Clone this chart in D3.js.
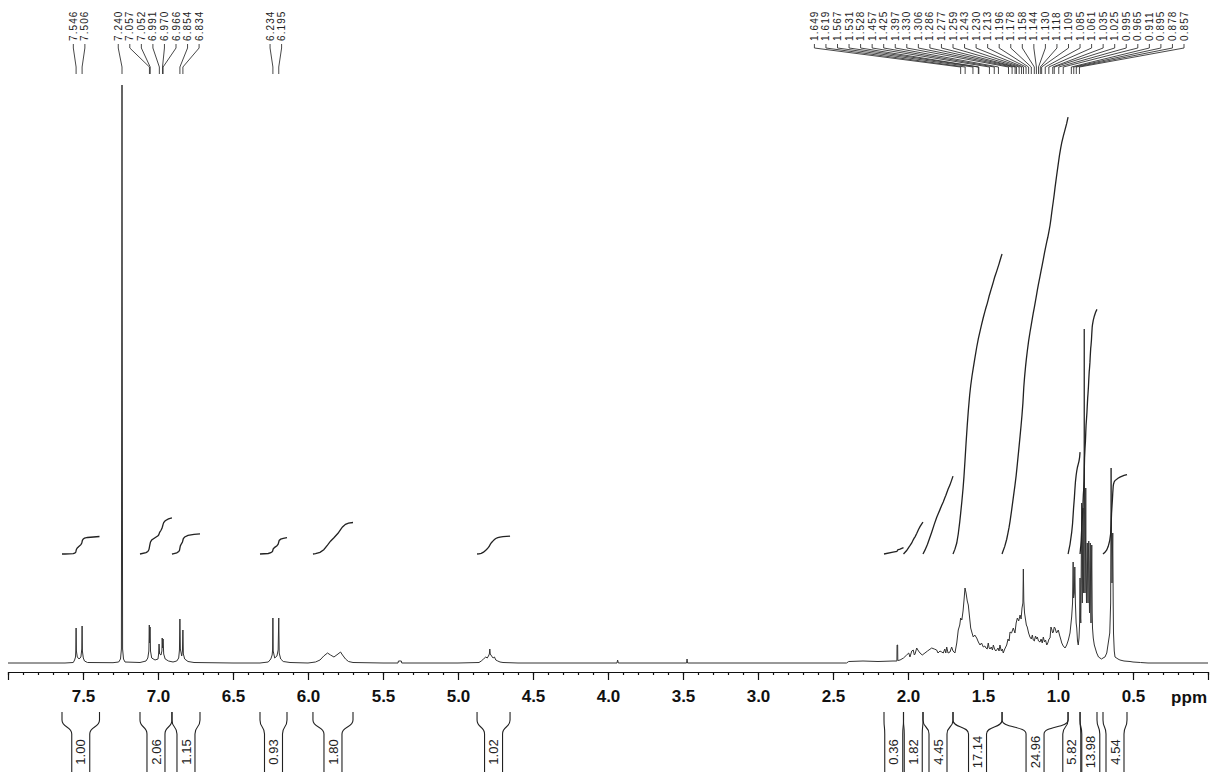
<!DOCTYPE html>
<html><head><meta charset="utf-8">
<script src="https://cdn.jsdelivr.net/npm/d3@7"></script>
<style>body{margin:0;background:#fff}svg{display:block}</style>
</head><body>
<svg id="c" width="1214" height="776"></svg>
<script>
// ---- DATA ----
// spectrum trace: [ppm, intensity]
const spectrum = [
[8.0,0],[7.62,0],[7.565,0.5],[7.556,3],[7.550,6],[7.548,12],[7.546,35],[7.544,12],[7.538,6],[7.526,4],[7.514,6],[7.508,14],[7.506,37],[7.504,12],[7.498,5],[7.49,2],[7.47,0.5],[7.30,0.3],
[7.262,1],[7.25,4],[7.244,14],[7.240,578],[7.236,14],[7.230,4],[7.22,1],[7.12,0.5],
[7.08,2],[7.068,5],[7.061,12],[7.058,38],[7.056,20],[7.053,36],[7.050,12],[7.042,5],[7.02,3],[7.0,4],[6.996,9],[6.993,19],[6.989,9],[6.98,8],[6.974,12],[6.972,25],[6.969,15],[6.966,24],[6.962,9],[6.952,4],[6.93,2],[6.90,1],
[6.875,2],[6.862,5],[6.857,13],[6.854,44],[6.851,14],[6.842,7],[6.837,12],[6.834,33],[6.831,9],[6.822,4],[6.80,1.5],[6.76,0.5],[6.5,0],[6.32,0],
[6.265,1],[6.248,4],[6.239,8],[6.236,13],[6.234,45],[6.232,12],[6.222,5],[6.207,7],[6.199,13],[6.195,45],[6.192,10],[6.182,4],[6.165,1.5],[6.12,0.5],[6.0,0],
[5.95,1],[5.92,3],[5.895,7],[5.87,10],[5.85,8],[5.827,6],[5.80,9],[5.783,11],[5.77,8],[5.75,4],[5.73,1.5],[5.70,0.5],[5.5,0],
[5.40,0],[5.397,2],[5.378,2],[5.375,0],[5.0,0],
[4.86,0.5],[4.845,2],[4.83,4],[4.815,6],[4.805,5],[4.797,7],[4.791,9],[4.788,14],[4.785,9],[4.776,7],[4.766,5],[4.757,6],[4.748,3],[4.735,2],[4.72,1],[4.70,0.5],[4.6,0],
[3.94,0],[3.936,3],[3.931,0],[3.476,0],[3.473,4],[3.470,0],[2.41,0],
[2.395,1.5],[2.30,2],[2.20,1.5],[2.10,2],[2.074,2],[2.073,18],[2.069,18],[2.068,2.5],[2.053,3],
[2.03,5],[2.009,8],[1.995,10],[1.987,6],[1.975,12],[1.965,13],[1.958,8],[1.953,9],[1.942,15],[1.93,12],[1.92,10],[1.905,8],[1.887,10],[1.87,12],
[1.842,15],[1.825,14],[1.809,13],[1.80,10],[1.787,12],[1.775,11],[1.765,10],[1.755,14],[1.748,10],[1.742,16],[1.733,10],[1.72,11],[1.709,16],[1.70,12],[1.687,10],
[1.675,20],[1.665,33],[1.655,38],[1.649,45],[1.641,43],[1.633,52],[1.627,62],[1.620,75],[1.613,70],[1.605,62],[1.598,58],[1.589,45],[1.582,35],[1.573,30],[1.565,26],[1.555,28],[1.542,25],[1.531,21],[1.52,18],[1.51,20],
[1.498,16],[1.488,17],[1.48,15],[1.472,14],[1.465,20],[1.459,15],[1.453,14],[1.445,16],[1.437,13],[1.431,18],[1.423,14],[1.415,12],[1.409,13],[1.40,15],[1.393,12],[1.387,18],[1.378,12],[1.371,14],[1.365,10],
[1.355,14],[1.342,18],[1.333,24],[1.326,22],[1.32,31],[1.31,30],[1.298,35],[1.287,30],[1.279,40],[1.271,45],[1.262,42],[1.253,48],[1.246,44],[1.240,55],[1.234,60],[1.231,94],[1.228,62],[1.223,50],[1.216,43],[1.211,38],[1.205,36],[1.196,30],[1.187,26],
[1.178,24],[1.171,28],[1.165,23],[1.158,22],[1.150,27],[1.143,24],[1.138,26],[1.130,22],[1.12,21],[1.113,24],[1.105,20],[1.098,26],[1.09,21],[1.083,23],[1.075,18],[1.068,20],[1.06,24],[1.053,25],[1.047,36],[1.042,34],[1.036,30],[1.031,31],[1.025,36],[1.02,35],[1.01,30],[0.998,33],[0.99,28],[0.982,24],[0.975,20],[0.965,17],[0.953,15],[0.942,18],
[0.931,23],[0.92,30],[0.909,46],[0.903,60],[0.899,101],[0.896,65],[0.891,70],[0.888,96],[0.884,60],[0.879,40],[0.875,35],[0.87,22],[0.865,18],[0.86,25],[0.856,40],[0.853,85],[0.850,45],[0.848,40],
[0.845,100],[0.842,160],[0.840,80],[0.838,60],[0.836,120],[0.833,155],[0.831,90],[0.829,70],[0.826,200],[0.825,334],[0.823,150],[0.820,70],[0.817,110],[0.815,175],[0.813,90],[0.810,60],[0.807,100],[0.805,120],[0.802,80],[0.800,60],[0.797,110],[0.795,122],[0.792,70],[0.790,50],[0.787,100],[0.785,120],[0.782,60],[0.780,40],[0.777,90],[0.775,118],[0.772,50],[0.77,35],[0.765,25],[0.758,18],[0.75,14],
[0.742,10],[0.73,6],[0.72,5],[0.71,4],[0.70,5],[0.687,6],[0.675,10],[0.665,20],[0.655,30],[0.649,60],[0.646,195],[0.643,120],[0.640,80],[0.637,110],[0.635,130],[0.632,60],[0.630,30],[0.625,12],[0.62,6],[0.60,4],[0.587,3],[0.56,2],[0.52,1.5],[0.50,1],[0.45,0.5],[0.40,0],[0.0,0]
];

// integrals: ppm ranges and values
const integralRanges = [
  [7.64,7.39],[7.12,6.907],[6.907,6.72],[6.32,6.14],[5.967,5.70],[4.873,4.653],
  [2.16,2.03],[2.03,1.90],[1.90,1.70],[1.70,1.373],[1.373,0.933],[0.933,0.853],[0.853,0.74],[0.70,0.54]
];
const integralValues = [1.00,2.06,1.15,0.93,1.80,1.02,0.36,1.82,4.45,17.14,24.96,5.82,13.98,4.54];

// peak labels (ppm)
const peakLabels = [
  7.546,7.506,7.240,7.057,7.052,6.991,6.970,6.966,6.854,6.834,
  6.234,6.195,
  1.649,1.619,1.567,1.531,1.528,1.457,1.425,1.397,1.330,1.306,1.286,1.277,1.259,1.243,1.230,1.213,
  1.196,1.178,1.158,1.144,1.130,1.118,1.109,1.085,1.061,1.035,1.025,0.995,0.965,0.911,0.895,0.878,0.857
];

const majorTicks = d3.range(0, 8.001, 0.5);
const minorTicks = d3.range(0, 81).map(i => i / 10);

// ---- DRAW ----
const svg = d3.select("#c");
svg.append("rect").attr("width",1214).attr("height",776).attr("fill","#fff");

const x = d3.scaleLinear().domain([8, 0]).range([8, 1208]);
const y = d3.scaleLinear().domain([0, 580]).range([663, 83]);
const yInt = d3.scaleLinear().domain([0, 30]).range([554, 29]);

// spectrum
svg.append("path").datum(spectrum)
  .attr("fill","none").attr("stroke","#333").attr("stroke-width",1)
  .attr("stroke-linejoin","round")
  .attr("d", d3.line().x(d => x(d[0])).y(d => y(d[1])));

// integral curves from cumulative area of the spectrum
function interp(p){
  for (let i=0;i<spectrum.length-1;i++){
    const a=spectrum[i], b=spectrum[i+1];
    if (p<=a[0] && p>=b[0]){ const t=(a[0]-p)/(a[0]-b[0]||1); return a[1]+t*(b[1]-a[1]); }
  }
  return 0;
}
function cumulative(from, to){
  const pts=[[from,interp(from)]].concat(spectrum.filter(d=>d[0]<from&&d[0]>to)).concat([[to,interp(to)]]);
  const cum=[0];
  for(let i=1;i<pts.length;i++) cum.push(cum[i-1]+0.5*(pts[i][1]+pts[i-1][1])*(pts[i-1][0]-pts[i][0]));
  const tot=cum[cum.length-1]||1;
  return pts.map((d,i)=>[d[0],cum[i]/tot]);
}
integralRanges.forEach((r,i)=>{
  const c=cumulative(r[0],r[1]);
  svg.append("path").datum(c).attr("fill","none").attr("stroke","#222").attr("stroke-width",1.3)
    .attr("d", d3.line().x(d=>x(d[0])).y(d=>yInt(d[1]*integralValues[i])));
});

// axis
const axG = svg.append("g").attr("transform","translate(0,672)");
axG.append("g").call(d3.axisBottom(x).tickValues(minorTicks).tickSize(3).tickSizeOuter(0).tickFormat(""));
const majG = axG.append("g").call(d3.axisBottom(x).tickValues(majorTicks).tickSize(8).tickSizeOuter(0).tickPadding(10)
  .tickFormat(d => (d > 0.01 && d < 7.99) ? d3.format(".1f")(d) : ""));
axG.selectAll("path,line").attr("stroke","#111").attr("stroke-width",1.2);
majG.selectAll("text").attr("font-family","'Liberation Sans',Arial,sans-serif").attr("font-size",17).attr("font-weight","bold").attr("fill","#111");
svg.append("text").attr("x",1207).attr("y",703).attr("text-anchor","end")
  .attr("font-family","'Liberation Sans',Arial,sans-serif").attr("font-size",17).attr("font-weight","bold").attr("fill","#111").text("ppm");

// label spreading
function spread(xs, s, maxX){
  let cl = xs.map(v=>({sum:v,n:1,start:v}));
  let changed=true;
  while(changed){
    changed=false;
    for(let i=0;i<cl.length;i++){
      const c=cl[i];
      if(c.start+(c.n-1)*s>maxX){c.start=maxX-(c.n-1)*s;}
    }
    for(let i=0;i<cl.length-1;i++){
      const a=cl[i], b=cl[i+1];
      if(b.start-(a.start+(a.n-1)*s) < s){
        const n=a.n+b.n, sum=a.sum+b.sum;
        cl.splice(i,2,{sum,n,start:sum/n-(n-1)/2*s});
        changed=true; break;
      }
    }
  }
  const out=[];
  cl.forEach(c=>{for(let k=0;k<c.n;k++) out.push(c.start+k*s);});
  return out;
}

// peak labels
const pk = peakLabels.map(p=>({p,px:x(p)})).sort((a,b)=>a.px-b.px);
const lx = spread(pk.map(d=>d.px), 11.55, 1184);
const topG = svg.append("g");
pk.forEach((d,i)=>{
  const l=lx[i];
  topG.append("path").attr("fill","none").attr("stroke","#333").attr("stroke-width",0.9)
    .attr("d",`M${l},44 L${l},48 L${d.px},67 L${d.px},74`);
  topG.append("text").attr("transform",`translate(${l},41) rotate(-90)`).attr("dy","0.35em")
    .attr("font-family","'Liberation Sans',Arial,sans-serif").attr("font-size",10).attr("letter-spacing","1.1px")
    .attr("fill","#222").text(d3.format(".3f")(d.p));
});

// integral labels under the axis
const centers = integralRanges.map(r=>x((r[0]+r[1])/2));
const order = d3.range(centers.length).sort((a,b)=>centers[a]-centers[b]);
const lc = spread(order.map(i=>centers[i]), 19, 1200);
const botG = svg.append("g");
order.forEach((idx,k)=>{
  const c=lc[k], r=integralRanges[idx];
  const xa=x(r[0]), xb=x(r[1]);
  const bl=c-9, br=c+9;
  botG.append("path").attr("fill","none").attr("stroke","#222").attr("stroke-width",1.1)
    .attr("d",`M${xa},712 L${xa},720 C${xa},728 ${bl},726 ${bl},734 L${bl},772`);
  botG.append("path").attr("fill","none").attr("stroke","#222").attr("stroke-width",1.1)
    .attr("d",`M${xb},712 L${xb},720 C${xb},728 ${br},726 ${br},734 L${br},772`);
  botG.append("text").attr("transform",`translate(${c},752) rotate(-90)`).attr("dy","0.35em")
    .attr("text-anchor","middle").attr("font-family","'Liberation Sans',Arial,sans-serif").attr("font-size",13)
    .attr("fill","#222").text(d3.format(".2f")(integralValues[idx]));
});
</script>
</body></html>
